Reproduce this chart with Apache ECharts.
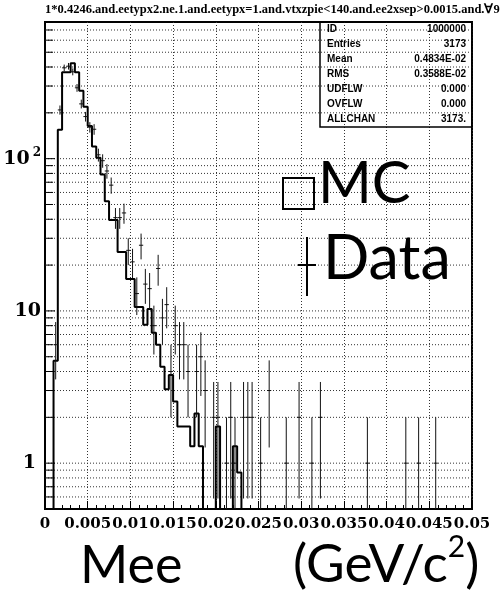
<!DOCTYPE html>
<html><head><meta charset="utf-8">
<script src="https://cdn.jsdelivr.net/npm/echarts@6/dist/echarts.min.js"></script>
<style>html,body{margin:0;padding:0;background:#fff}#c{width:503px;height:609px}</style>
</head><body><div id="c"></div>
<script>
// ---- data (100 bins of width 0.0005 GeV/c^2 from 0 to 0.05) ----
const binWidth = 0.0005;
const mcCounts = [
  0, 0, 4.7, 155, 369, 369, 424, 369, 279, 219,
  164, 120, 101.5, 78.6, 52.6, 39.5, 39.5, 24.4, 24.4, 16.2,
  16.2, 10.6, 10.6, 8.1, 10.3, 7.2, 6.0, 4.3, 3.06, 3.8,
  2.54, 1.74, 1.74, 1.74, 1.29, 2.12, 1.29, 0, 0, 0,
  1.74, 0, 0, 0, 1.29, 0.87, 0, 0, 0, 0,
  0, 0, 0, 0, 0, 0, 0, 0, 0, 0,
  0, 0, 0, 0, 0, 0, 0, 0, 0, 0,
  0, 0, 0, 0, 0, 0, 0, 0, 0, 0,
  0, 0, 0, 0, 0, 0, 0, 0, 0, 0,
  0, 0, 0, 0, 0, 0, 0, 0, 0, 0
];
const dataCounts = [
  0, 0, 6, 209, 395, 405, 372, 292, 229, 189,
  161, 156, 106, 97, 83, 67, 41, 41, 44, 25,
  21, 13, 27, 15, 14, 8, 19, 9, 11, 4,
  8, 6, 6, 4, 0, 4, 5, 3, 0, 2,
  2, 0, 1, 2, 1, 0, 2, 2, 2, 0,
  1, 0, 3, 0, 0, 0, 1, 0, 0, 2,
  0, 0, 1, 0, 2, 0, 0, 0, 0, 0,
  0, 0, 0, 0, 0, 1, 0, 0, 0, 0,
  0, 0, 0, 0, 1, 0, 0, 1, 0, 0,
  0, 1, 0, 0, 0, 0, 0, 0, 0, 0
];
const xTickLabels = ['0','0.005','0.01','0.015','0.02','0.025','0.03','0.035','0.04','0.045','0.05'];
const yGridValues = [0.6,0.7,0.8,0.9,1,2,3,4,5,6,7,8,9,10,20,30,40,50,60,70,80,90,100,200,300,400,500,600,700];
const statsLabels = ['ID','Entries','Mean','RMS','UDFLW','OVFLW','ALLCHAN'];
const statsValues = ['1000000','3173','0.4834E-02','0.3588E-02','0.000','0.000','3173.'];
const titleText = '1*0.4246.and.eetypx2.ne.1.and.eetypx=1.and.vtxzpie<140.and.ee2xsep>0.0015.and.\u22009';

// ---- chart ----
const FLOOR = 0.05; // draw empty bins below the axis minimum (clipped)
const xMax = mcCounts.length * binWidth;
const mcLine = mcCounts.map((v, i) => [i * binWidth, Math.max(v, FLOOR)]);
mcLine.push([xMax, FLOOR]);
const dataPts = [];
dataCounts.forEach((n, i) => { if (n > 0) dataPts.push([(i + 0.5) * binWidth, n]); });

const serifB = '"DejaVu Serif"';
const gill = 'Lato';

const statsGraphics = [{
  type: 'rect', shape: {x: 320, y: 22, width: 152, height: 105},
  style: {fill: 'none', stroke: '#000', lineWidth: 1.5}, z: 10
}];
statsLabels.forEach((s, i) => {
  statsGraphics.push({type: 'text', x: 327, y: 29.5 + 15 * i, z: 10,
    style: {text: s, font: 'bold 10px "Liberation Sans"', fill: '#000', textVerticalAlign: 'middle', textAlign: 'left'}});
  statsGraphics.push({type: 'text', x: 466, y: 29.5 + 15 * i, z: 10,
    style: {text: statsValues[i], font: 'bold 10px "Liberation Sans"', fill: '#000', textVerticalAlign: 'middle', textAlign: 'right'}});
});

const chart = echarts.init(document.getElementById('c'), null, {renderer: 'canvas'});
chart.setOption({
  animation: false,
  backgroundColor: '#fff',
  grid: {left: 45, top: 22, width: 427, height: 487, show: true, borderColor: '#000', borderWidth: 2, backgroundColor: 'transparent'},
  xAxis: {
    type: 'value', min: 0, max: xMax, interval: 0.005,
    axisLine: {show: true, lineStyle: {color: '#000', width: 2}},
    axisTick: {show: true, inside: true, length: 8, lineStyle: {color: '#000', width: 1}},
    minorTick: {show: true, splitNumber: 5, length: 4, lineStyle: {color: '#000', width: 1}},
    splitLine: {show: true, lineStyle: {color: '#333', width: 1, type: [1, 2]}},
    axisLabel: {
      showMinLabel: true, showMaxLabel: true, hideOverlap: false, margin: 8,
      color: '#000', fontFamily: serifB, fontWeight: 'bold', fontSize: 15,
      formatter: v => xTickLabels[Math.round(v / 0.005)]
    }
  },
  yAxis: {
    type: 'log', logBase: 10, min: 0.5, max: 790,
    axisLine: {show: true, lineStyle: {color: '#000', width: 2}},
    axisTick: {show: false},
    splitLine: {show: false},
    axisLabel: {
      showMinLabel: true, showMaxLabel: true, margin: 4, color: '#000',
      formatter: v => {
        const l = Math.log10(v), r = Math.round(l);
        if (Math.abs(l - r) > 1e-6) return '';
        if (r === 0) return '{one|1}';
        if (r === 1) return '{a|10}';
        return '{a|10}{s|' + r + '}';
      },
      rich: {
        a: {fontFamily: serifB, fontWeight: 'bold', fontSize: 19, color: '#000'},
        one: {fontFamily: serifB, fontWeight: 'bold', fontSize: 19, color: '#000', padding: [0, 5, 0, 0]},
        s: {fontFamily: serifB, fontWeight: 'bold', fontSize: 12, color: '#000', verticalAlign: 'top', padding: [0, 0, 12, 3]}
      }
    }
  },
  series: [
    {
      type: 'custom', name: 'grid', z: 1, clip: true, silent: true,
      data: yGridValues.map(v => [0, v]),
      renderItem: (params, api) => {
        const v = api.value(1);
        const p0 = api.coord([0, v]), p1 = api.coord([xMax, v]);
        const major = Math.abs(Math.log10(v) - Math.round(Math.log10(v))) < 1e-6;
        return {type: 'group', children: [
          {type: 'line', shape: {x1: p0[0], y1: p0[1], x2: p1[0], y2: p1[1]}, style: {stroke: '#333', lineWidth: 1, lineDash: [1, 2]}},
          {type: 'line', shape: {x1: p0[0], y1: p0[1], x2: p0[0] + (major ? 10 : 8), y2: p0[1]}, style: {stroke: '#000', lineWidth: 1}}
        ]};
      }
    },
    {
      type: 'line', name: 'MC', data: mcLine, step: 'end', symbol: 'none', clip: true, z: 3,
      lineStyle: {color: '#000', width: 2}
    },
    {
      type: 'custom', name: 'Data', z: 4, clip: true,
      data: dataPts,
      renderItem: (params, api) => {
        const x = api.value(0), n = api.value(1), e = Math.sqrt(n);
        const pT = api.coord([x, n + e]), pB = api.coord([x, Math.max(n - e, FLOOR)]);
        const pL = api.coord([x - binWidth / 2, n]), pR = api.coord([x + binWidth / 2, n]);
        return {type: 'group', children: [
          {type: 'line', shape: {x1: pT[0], y1: pT[1], x2: pB[0], y2: pB[1]}, style: {stroke: '#111', lineWidth: 1}},
          {type: 'line', shape: {x1: pL[0], y1: pL[1], x2: pR[0], y2: pR[1]}, style: {stroke: '#111', lineWidth: 1}}
        ]};
      }
    }
  ],
  graphic: [
    {type: 'text', left: 45, top: 3, style: {text: titleText, font: 'bold 12.5px "Liberation Serif"', fill: '#000'}},
    ...statsGraphics,
    {type: 'rect', shape: {x: 283, y: 178, width: 31, height: 31}, style: {fill: 'none', stroke: '#000', lineWidth: 2}, z: 10},
    {type: 'text', x: 318, y: 213, style: {text: 'MC', font: '58px ' + gill, fill: '#000', textVerticalAlign: 'bottom'}, z: 10},
    {type: 'line', shape: {x1: 307, y1: 237, x2: 307, y2: 296}, style: {stroke: '#000', lineWidth: 2}, z: 10},
    {type: 'line', shape: {x1: 298, y1: 265, x2: 316, y2: 265}, style: {stroke: '#000', lineWidth: 2}, z: 10},
    {type: 'text', x: 323, y: 290, style: {text: 'Data', font: '61px ' + gill, fill: '#000', textVerticalAlign: 'bottom'}, z: 10},
    {type: 'text', x: 80, y: 592, style: {text: 'Mee', font: '52px ' + gill, fill: '#000', textVerticalAlign: 'bottom'}, z: 10},
    {type: 'text', x: 293, y: 598, style: {
      text: '{n|(GeV/c}{s|2}{n|)}', textVerticalAlign: 'bottom',
      rich: {n: {fontFamily: gill, fontSize: 53, lineHeight: 66, fill: '#000', color: '#000'},
             s: {fontFamily: gill, fontSize: 30, fill: '#000', color: '#000', verticalAlign: 'top', lineHeight: 66}}
    }, z: 10}
  ]
});
</script></body></html>
